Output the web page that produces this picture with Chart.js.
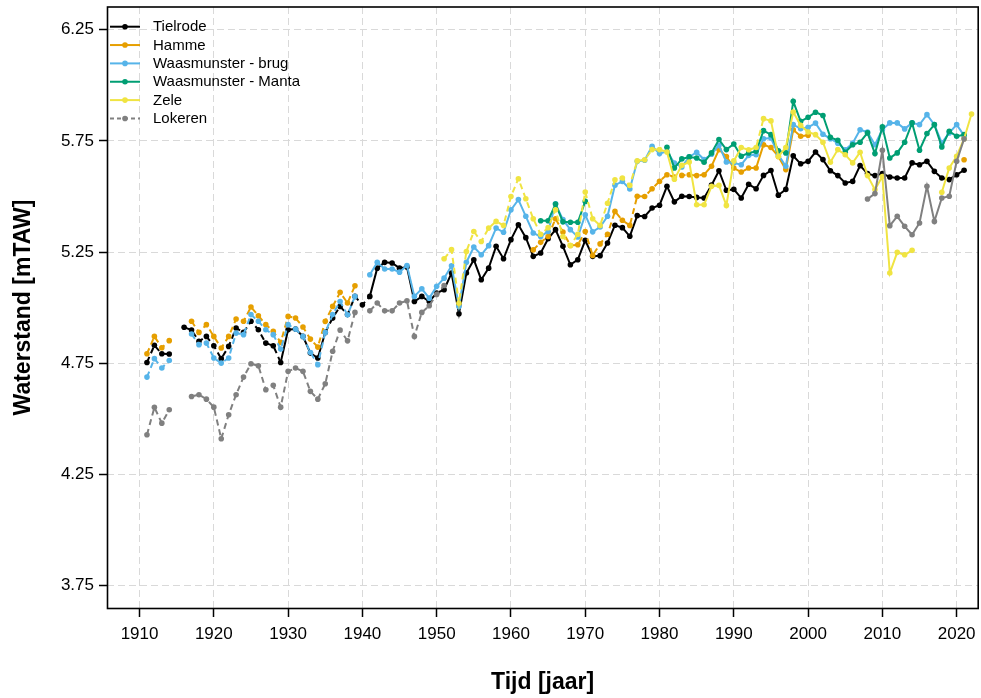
<!DOCTYPE html>
<html>
<head>
<meta charset="utf-8">
<title>Waterstand</title>
<script src="https://cdn.jsdelivr.net/npm/chart.js@4/dist/chart.umd.min.js"></script>
<style>
  html, body { margin: 0; padding: 0; background: #ffffff; }
  #wrap { width: 981px; height: 698px; }
</style>
</head>
<body>
<div id="wrap"><canvas id="c" width="981" height="698"></canvas></div>
<script>
// Jaren 1911 t/m 2022
const years = Array.from({ length: 112 }, (_, i) => 1911 + i);
const xTickValues = [1910, 1920, 1930, 1940, 1950, 1960, 1970, 1980, 1990, 2000, 2010, 2020];
const yTickValues = [3.75, 4.25, 4.75, 5.25, 5.75, 6.25];

// Gemiddelde waterstand per jaar [mTAW], per station (null = geen meting)
const tielrode = [
  4.754, 4.831, 4.793, 4.792, null, 4.912, 4.900, 4.849, 4.871, 4.829,
  4.771, 4.826, 4.909, 4.889, 4.939, 4.901, 4.841, 4.829, 4.754, 4.901,
  4.904, 4.871, 4.796, 4.774, 4.889, 4.954, 5.006, 4.969, 5.051, 5.013,
  5.051, 5.178, 5.204, 5.201, 5.178, 5.183, 5.028, 5.051, 5.028, 5.066,
  5.081, 5.156, 4.973, 5.156, 5.216, 5.126, 5.178, 5.276, 5.220, 5.306,
  5.373, 5.315, 5.231, 5.246, 5.310, 5.351, 5.276, 5.193, 5.216, 5.303,
  5.231, 5.234, 5.291, 5.371, 5.360, 5.321, 5.414, 5.410, 5.448, 5.461,
  5.546, 5.476, 5.501, 5.500, 5.496, 5.493, 5.551, 5.616, 5.528, 5.532,
  5.493, 5.555, 5.535, 5.595, 5.617, 5.506, 5.532, 5.683, 5.647, 5.658,
  5.700, 5.666, 5.616, 5.594, 5.561, 5.568, 5.639, 5.603, 5.594, 5.603,
  5.588, 5.583, 5.583, 5.651, 5.643, 5.658, 5.613, 5.583, 5.576, 5.598,
  5.618, null
];
const hamme = [
  4.793, 4.871, 4.820, 4.852, null, null, 4.939, 4.889, 4.924, 4.871,
  4.819, 4.871, 4.949, 4.939, 5.003, 4.964, 4.924, 4.894, 4.844, 4.961,
  4.954, 4.913, 4.859, 4.823, 4.939, 5.006, 5.069, 5.021, 5.099, null,
  null, null, null, null, null, null, null, null, null, null,
  null, null, null, null, null, null, null, null, null, null,
  null, null, 5.260, 5.294, 5.320, 5.400, 5.340, 5.280, 5.283, 5.343,
  5.235, 5.287, 5.330, 5.433, 5.393, 5.370, 5.501, 5.500, 5.535, 5.568,
  5.598, 5.588, 5.595, 5.598, 5.594, 5.598, 5.636, 5.711, 5.680, 5.628,
  5.610, 5.628, 5.628, 5.733, 5.720, 5.680, 5.621, 5.800, 5.771, 5.775,
  null, null, null, null, null, null, null, null, null, null,
  null, null, null, null, null, null, null, null, null, null,
  5.665, null
];
const waasmunsterBrug = [
  4.688, 4.771, 4.729, 4.763, null, null, 4.882, 4.834, 4.841, 4.774,
  4.751, 4.774, 4.886, 4.879, 4.969, 4.939, 4.901, 4.879, 4.814, 4.924,
  4.904, 4.871, 4.799, 4.744, 4.889, 4.969, 5.028, 4.968, 5.051, null,
  5.148, 5.204, 5.174, 5.174, 5.160, 5.190, 5.051, 5.085, 5.043, 5.096,
  5.133, 5.189, 5.006, 5.204, 5.273, 5.238, 5.279, 5.358, 5.339, 5.440,
  5.486, 5.411, 5.336, 5.320, 5.343, 5.467, 5.396, 5.351, 5.318, 5.418,
  5.341, 5.363, 5.411, 5.551, 5.568, 5.534, 5.658, 5.663, 5.726, 5.693,
  5.703, 5.650, 5.633, 5.678, 5.699, 5.666, 5.690, 5.730, 5.655, 5.651,
  5.643, 5.685, 5.688, 5.760, 5.763, 5.688, 5.636, 5.823, 5.805, 5.811,
  5.830, 5.780, 5.760, 5.740, 5.710, 5.740, 5.800, 5.790, 5.733, 5.801,
  5.831, 5.831, 5.804, 5.831, 5.823, 5.868, 5.823, 5.741, 5.786, 5.823,
  5.774, null
];
const waasmunsterManta = [
  null, null, null, null, null, null, null, null, null, null,
  null, null, null, null, null, null, null, null, null, null,
  null, null, null, null, null, null, null, null, null, null,
  null, null, null, null, null, null, null, null, null, null,
  null, null, null, null, null, null, null, null, null, null,
  null, null, null, 5.391, 5.391, 5.466, 5.386, 5.384, 5.384, 5.478,
  null, null, null, null, null, null, null, null, null, null,
  5.721, 5.628, 5.669, 5.678, 5.673, 5.654, 5.696, 5.756, 5.711, 5.736,
  5.681, 5.696, 5.703, 5.796, 5.778, 5.706, 5.696, 5.928, 5.838, 5.856,
  5.879, 5.864, 5.766, 5.753, 5.699, 5.733, 5.744, 5.786, 5.693, 5.813,
  5.673, 5.696, 5.744, 5.831, 5.708, 5.783, 5.823, 5.723, 5.793, 5.771,
  5.778, null
];
const zele = [
  null, null, null, null, null, null, null, null, null, null,
  null, null, null, null, null, null, null, null, null, null,
  null, null, null, null, null, null, null, null, null, null,
  null, null, null, null, null, null, null, null, null, null,
  5.220, 5.261, 5.020, 5.253, 5.343, 5.298, 5.358, 5.388, 5.370, 5.500,
  5.580, 5.490, 5.400, 5.330, 5.360, 5.440, 5.320, 5.280, 5.330, 5.520,
  5.400, 5.370, 5.470, 5.575, 5.583, 5.550, 5.660, 5.665, 5.711, 5.711,
  5.700, 5.578, 5.640, 5.655, 5.463, 5.463, 5.546, 5.550, 5.460, 5.660,
  5.720, 5.710, 5.720, 5.850, 5.840, 5.680, 5.720, 5.880, 5.820, 5.790,
  5.778, 5.744, 5.654, 5.711, 5.688, 5.651, 5.699, 5.594, 5.531, 5.590,
  5.156, 5.249, 5.238, 5.258, null, null, null, 5.519, 5.628, 5.681,
  5.760, 5.871
];
const lokeren = [
  4.429, 4.552, 4.481, 4.541, null, null, 4.601, 4.609, 4.589, 4.553,
  4.411, 4.519, 4.609, 4.688, 4.748, 4.739, 4.631, 4.651, 4.553, 4.714,
  4.729, 4.714, 4.624, 4.589, 4.658, 4.804, 4.900, 4.851, 4.979, null,
  4.986, 5.021, 4.986, 4.986, 5.021, 5.031, 4.871, 4.979, 5.009, 5.060,
  5.100, null, null, null, null, null, null, null, null, null,
  null, null, null, null, null, null, null, null, null, null,
  null, null, null, null, null, null, null, null, null, null,
  null, null, null, null, null, null, null, null, null, null,
  null, null, null, null, null, null, null, null, null, null,
  null, null, null, null, null, null, null, 5.489, 5.513, 5.708,
  5.369, 5.411, 5.366, 5.328, 5.381, 5.546, 5.388, 5.493, 5.501, 5.658,
  5.759, null
];

const seriesNames = ['Tielrode', 'Hamme', 'Waasmunster - brug', 'Waasmunster - Manta', 'Zele', 'Lokeren'];
const seriesValues = [tielrode, hamme, waasmunsterBrug, waasmunsterManta, zele, lokeren];
const seriesColors = ['#000000', '#E69F00', '#56B4E9', '#009E73', '#F0E442', '#808080'];
// Periodes (jaar van/tot) waarin de lijn gestreept getekend wordt
const dashedPeriods = [
  [[1911, 1929], [1935, 1941]],
  [[1911, 1939], [1963, 1986]],
  [[1911, 1939]],
  [],
  [[1951, 1979], [1992, 1995]],
  [[1911, 1951]]
];

const FONT = '"Liberation Sans", Arial, Helvetica, sans-serif';
const DASH = [6, 4];

function inPeriod(periods, a, b) {
  return periods.some(([from, to]) => a >= from && b <= to);
}

const datasets = seriesNames.map((name, k) => ({
  label: name,
  data: years.map((yr, i) => ({ x: yr, y: seriesValues[k][i] })),
  borderColor: seriesColors[k],
  backgroundColor: seriesColors[k],
  pointBackgroundColor: seriesColors[k],
  pointBorderWidth: 0,
  pointRadius: 2.8,
  pointHoverRadius: 2.8,
  borderWidth: 2,
  tension: 0,
  fill: false,
  spanGaps: false,
  order: seriesNames.length - k,
  legendDash: k === 5,
  segment: {
    borderDash: ctx => inPeriod(dashedPeriods[k], ctx.p0.parsed.x, ctx.p1.parsed.x) ? DASH : []
  }
}));

// Kader rond het plotgebied
const frame = {
  id: 'frame',
  afterDraw(chart) {
    const { ctx, chartArea: a } = chart;
    ctx.save();
    ctx.strokeStyle = '#000';
    ctx.lineWidth = 1.6;
    ctx.strokeRect(a.left + 0.5, a.top, a.right - a.left - 0.5, a.bottom - a.top + 0.5);
    ctx.restore();
  }
};

// Legende linksboven in het plotgebied: lijnstuk met punt + naam
const insideLegend = {
  id: 'insideLegend',
  afterDatasetsDraw(chart) {
    const { ctx } = chart;
    const x0 = 110, x1 = 140, xt = 153, y0 = 26.7, dy = 18.35;
    ctx.save();
    chart.data.datasets.forEach((ds, i) => {
      const y = y0 + i * dy;
      ctx.strokeStyle = ds.borderColor;
      ctx.lineWidth = 2;
      ctx.setLineDash(ds.legendDash ? [4, 3] : []);
      ctx.beginPath();
      ctx.moveTo(x0, y);
      ctx.lineTo(x1, y);
      ctx.stroke();
      ctx.setLineDash([]);
      ctx.fillStyle = ds.borderColor;
      ctx.beginPath();
      ctx.arc((x0 + x1) / 2, y, 2.8, 0, Math.PI * 2);
      ctx.fill();
      ctx.fillStyle = '#000';
      ctx.font = '15px ' + FONT;
      ctx.textAlign = 'left';
      ctx.textBaseline = 'middle';
      ctx.fillText(ds.label, xt, y + 0.5);
    });
    ctx.restore();
  }
};

new Chart(document.getElementById('c'), {
  type: 'line',
  data: { datasets },
  plugins: [frame, insideLegend],
  options: {
    responsive: false,
    animation: false,
    devicePixelRatio: 1,
    events: [],
    layout: { padding: { top: 7, right: 1, left: 0, bottom: 0 } },
    plugins: {
      legend: { display: false },
      tooltip: { enabled: false }
    },
    scales: {
      x: {
        type: 'linear',
        min: 1905.62,
        max: 2022.9,
        afterBuildTicks: s => { s.ticks = xTickValues.map(v => ({ value: v })); },
        afterFit: s => { s.height = 90; s.paddingLeft = 0; s.paddingRight = 0; },
        ticks: {
          autoSkip: false,
          maxRotation: 0,
          padding: 7,
          color: '#000',
          font: { family: FONT, size: 17 },
          callback: v => String(v)
        },
        grid: {
          color: '#d9d9d9',
          lineWidth: 1,
          tickColor: '#000',
          tickLength: 9,
          tickWidth: 1.5
        },
        border: { display: false, dash: [7, 4] },
        title: {
          display: true,
          text: 'Tijd [jaar]',
          color: '#000',
          font: { family: FONT, size: 23, weight: 'bold' },
          padding: { top: 0, bottom: 1.2 }
        }
      },
      y: {
        type: 'linear',
        min: 3.65,
        max: 6.352,
        afterBuildTicks: s => { s.ticks = yTickValues.map(v => ({ value: v })); },
        afterFit: s => { s.width = 107; s.paddingTop = 0; s.paddingBottom = 0; },
        ticks: {
          padding: 5,
          color: '#000',
          font: { family: FONT, size: 17 },
          callback: v => Number(v).toFixed(2)
        },
        grid: {
          color: '#d9d9d9',
          lineWidth: 1,
          tickColor: '#000',
          tickLength: 8,
          tickWidth: 1.5
        },
        border: { display: false, dash: [7, 4] },
        title: {
          display: true,
          text: 'Waterstand [mTAW]',
          color: '#000',
          font: { family: FONT, size: 23, weight: 'bold' },
          padding: { top: 9.7, bottom: 0 }
        }
      }
    }
  }
});
</script>
</body>
</html>
